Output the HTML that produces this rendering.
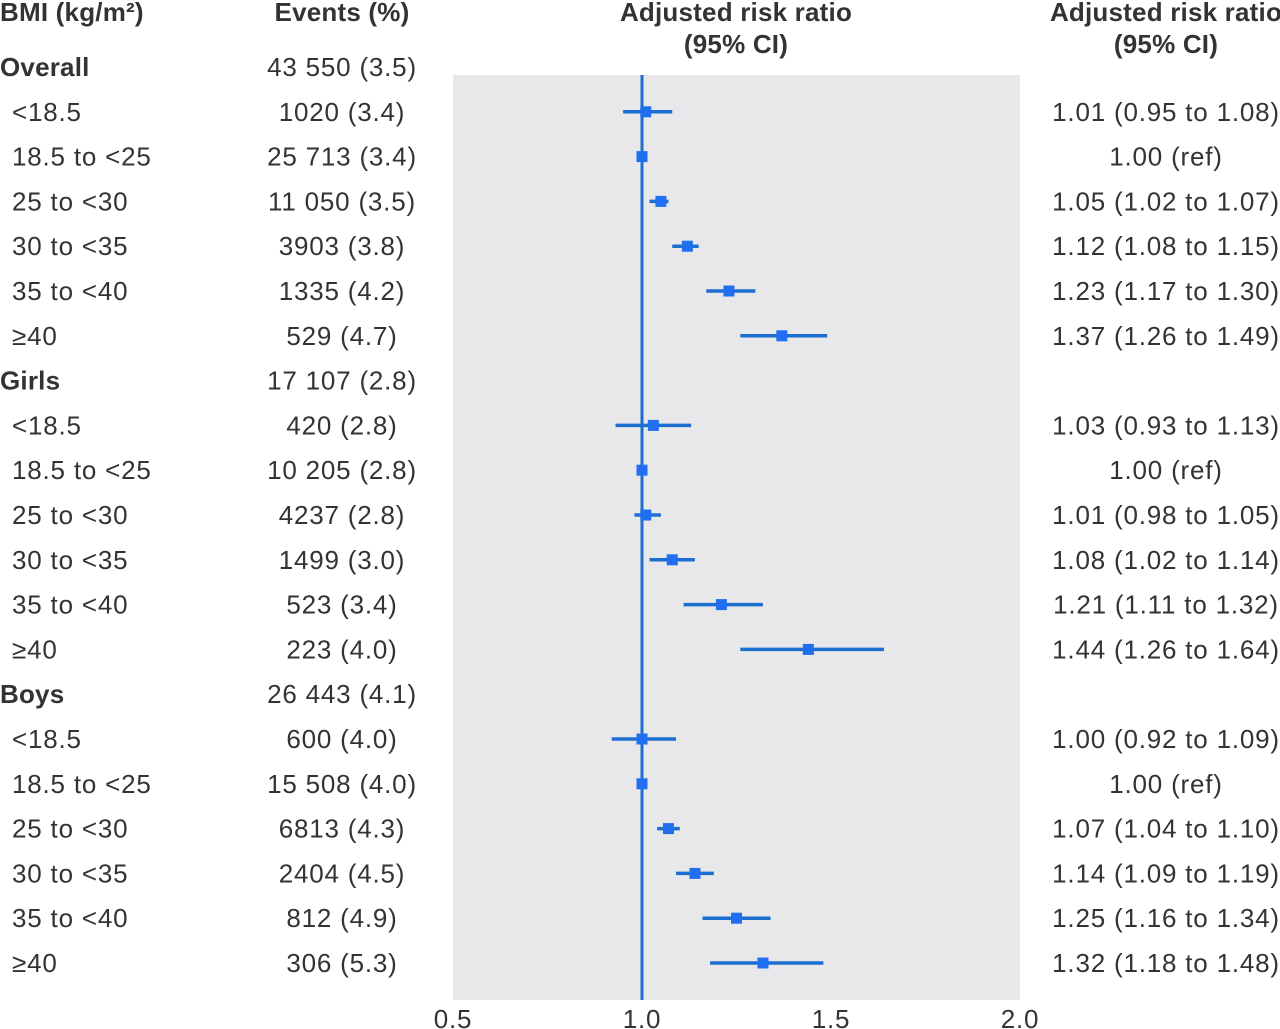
<!DOCTYPE html>
<html><head><meta charset="utf-8"><style>
html,body{margin:0;padding:0;background:#fff;}
svg{display:block;font-family:"Liberation Sans",sans-serif;}
</style></head><body>
<svg id="chart" width="1280" height="1029" viewBox="0 0 1280 1029"></svg>
<script>
const labels=["Overall","<18.5","18.5 to <25","25 to <30","30 to <35","35 to <40","≥40","Girls","<18.5","18.5 to <25","25 to <30","30 to <35","35 to <40","≥40","Boys","<18.5","18.5 to <25","25 to <30","30 to <35","35 to <40","≥40"];
const events=["43 550 (3.5)","1020 (3.4)","25 713 (3.4)","11 050 (3.5)","3903 (3.8)","1335 (4.2)","529 (4.7)","17 107 (2.8)","420 (2.8)","10 205 (2.8)","4237 (2.8)","1499 (3.0)","523 (3.4)","223 (4.0)","26 443 (4.1)","600 (4.0)","15 508 (4.0)","6813 (4.3)","2404 (4.5)","812 (4.9)","306 (5.3)"];
const est=[null,1.01,1.00,1.05,1.12,1.23,1.37,null,1.03,1.00,1.01,1.08,1.21,1.44,null,1.00,1.00,1.07,1.14,1.25,1.32];
const lo=[null,0.95,1.00,1.02,1.08,1.17,1.26,null,0.93,1.00,0.98,1.02,1.11,1.26,null,0.92,1.00,1.04,1.09,1.16,1.18];
const hi=[null,1.08,1.00,1.07,1.15,1.30,1.49,null,1.13,1.00,1.05,1.14,1.32,1.64,null,1.09,1.00,1.10,1.19,1.34,1.48];
const ciText=["","1.01 (0.95 to 1.08)","1.00 (ref)","1.05 (1.02 to 1.07)","1.12 (1.08 to 1.15)","1.23 (1.17 to 1.30)","1.37 (1.26 to 1.49)","","1.03 (0.93 to 1.13)","1.00 (ref)","1.01 (0.98 to 1.05)","1.08 (1.02 to 1.14)","1.21 (1.11 to 1.32)","1.44 (1.26 to 1.64)","","1.00 (0.92 to 1.09)","1.00 (ref)","1.07 (1.04 to 1.10)","1.14 (1.09 to 1.19)","1.25 (1.16 to 1.34)","1.32 (1.18 to 1.48)"];
const ticks=[0.5,1.0,1.5,2.0];
const tickLabels=["0.5","1.0","1.5","2.0"];

const NS="http://www.w3.org/2000/svg";
const svg=document.getElementById('chart');
const X0=453,X1=1020,D0=0.5,D1=2.0;
function xs(v){return X0+(v-D0)/(D1-D0)*(X1-X0);}
function ys(i){return 67+i*44.8;}
function mk(tag,attrs,parent){const e=document.createElementNS(NS,tag);for(const k in attrs)e.setAttribute(k,attrs[k]);(parent||svg).appendChild(e);return e;}
function txt(x,y,s,anchor,bold,name){const t=mk('text',{x:x,y:y,'text-anchor':anchor,'font-size':26,'letter-spacing':bold?0.2:0.8,fill:'#333','font-weight':bold?'bold':'normal'});t.textContent=s;


return t;}

const bg=mk('rect',{x:X0,y:75,width:X1-X0,height:925,fill:'#e8e8ea'});



txt(0,21,"BMI (kg/m²)","start",true,"bmi-column-header");
txt(342,21,"Events (%)","middle",true,"events-column-header");
txt(736,21,"Adjusted risk ratio","middle",true,"plot-header");
txt(736,53,"(95% CI)","middle",true,"plot-header-ci");
txt(1166,21,"Adjusted risk ratio","middle",true,"ci-column-header");
txt(1166,53,"(95% CI)","middle",true,"ci-column-header-ci");

const ref=mk('line',{x1:xs(1),x2:xs(1),y1:75,y2:1000,stroke:'#1c6fd0','stroke-width':3});



labels.forEach((l,i)=>{
  const y=ys(i);
  const group=est[i]===null;
  txt(group?0:12,y+9,l,"start",group,group?'group-label':'row-label');
  txt(342,y+9,events[i],"middle",false,'events-value');
  if(ciText[i])txt(1166,y+9,ciText[i],"middle",false,'ci-value');
  if(!group){
    const ln=mk('line',{x1:xs(lo[i]),x2:xs(hi[i]),y1:y,y2:y,stroke:'#1c6fd0','stroke-width':3.5});
    
    
    const r=mk('rect',{x:xs(est[i])-5.5,y:y-5.5,width:11,height:11,fill:'#1f6ff0'});
    
    
  }
});
ticks.forEach((t,i)=>{txt(xs(t),1028,tickLabels[i],"middle",false,'x-tick-label');});
</script>
</body></html>
